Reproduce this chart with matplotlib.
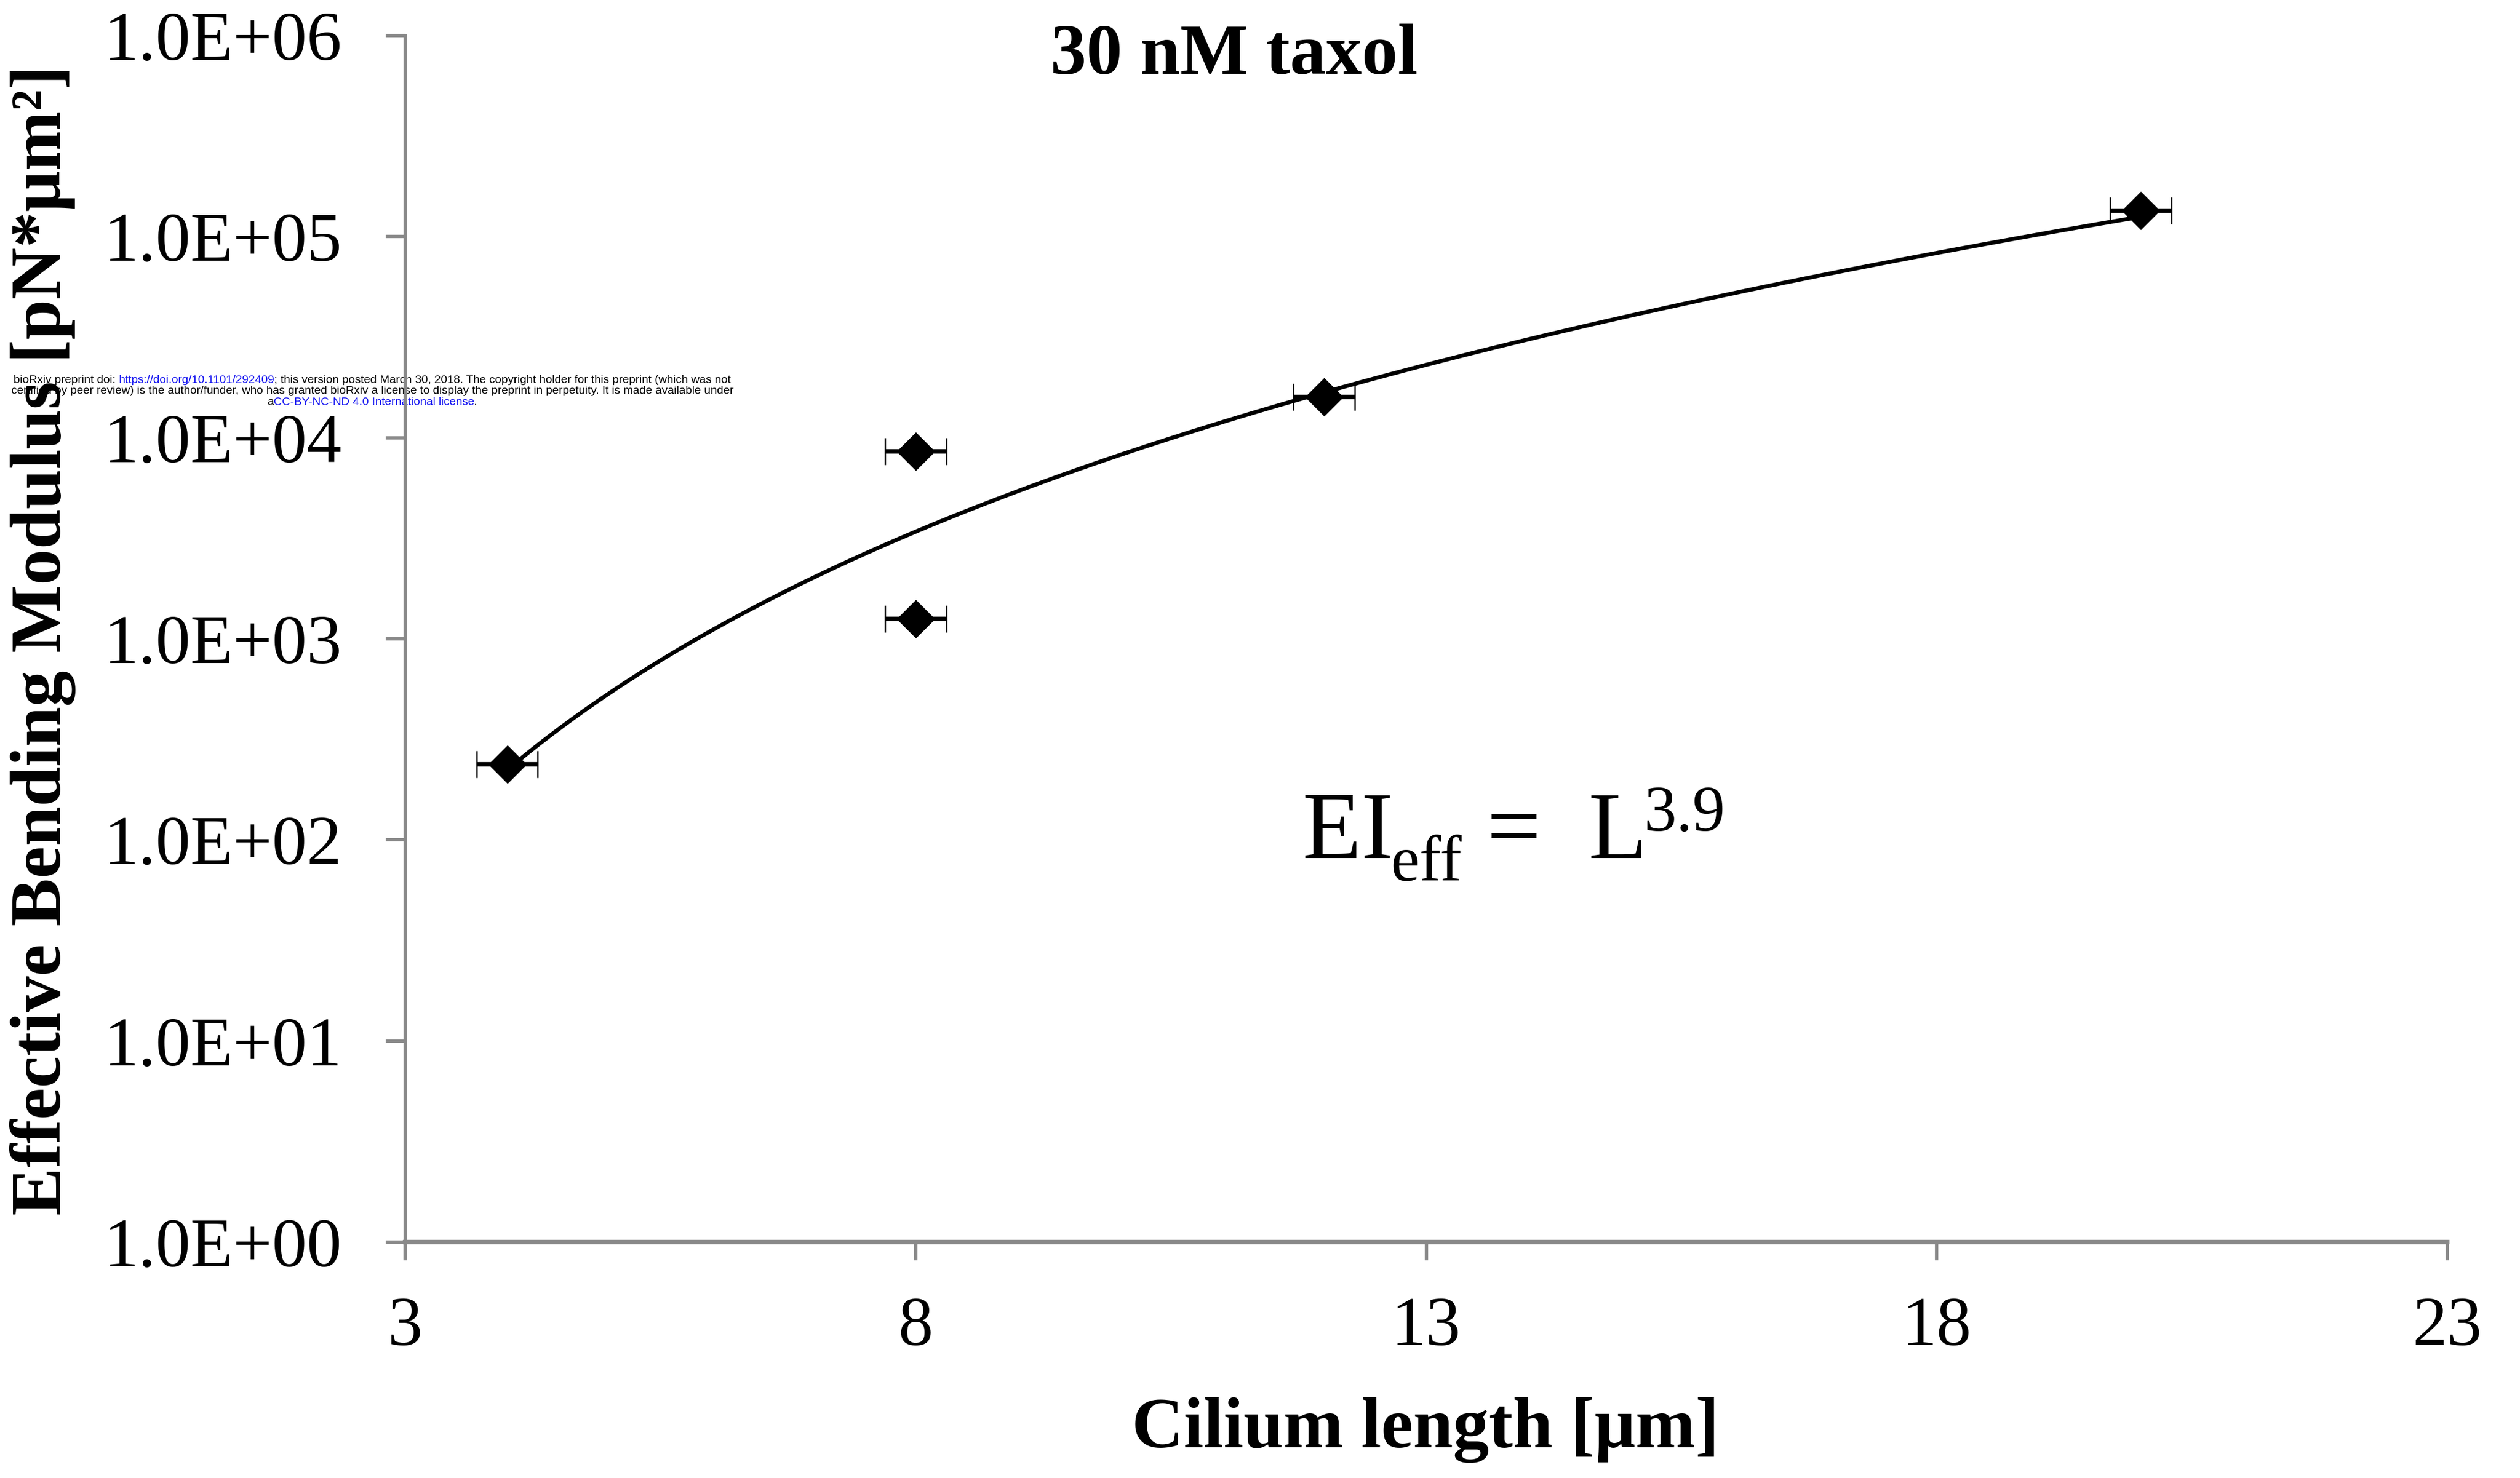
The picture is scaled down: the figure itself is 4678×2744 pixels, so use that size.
import numpy as np
import matplotlib
matplotlib.use("Agg")
import matplotlib.pyplot as plt
from matplotlib.transforms import IdentityTransform

# Measured cilia: length (um), effective bending modulus (pN*um^2), length error (um)
length_um = [4, 8, 8, 12, 20]
modulus = [237, 8530, 1260, 15960, 134600]
length_err = [0.3, 0.3, 0.3, 0.3, 0.3]

x_ticks = [3, 8, 13, 18, 23]
y_ticks = [1e0, 1e1, 1e2, 1e3, 1e4, 1e5, 1e6]
y_tick_labels = ["1.0E+00", "1.0E+01", "1.0E+02", "1.0E+03",
                 "1.0E+04", "1.0E+05", "1.0E+06"]

title_text = "30 nM taxol"
x_label = "Cilium length [\u03bcm]"
y_label = "Effective Bending Modulus [pN*\u03bcm\u00b2]"

header_lines = [
    [("bioRxiv preprint doi: ", "black"),
     ("https://doi.org/10.1101/292409", "#1010f0"),
     ("; this version posted March 30, 2018. The copyright holder for this preprint (which was not", "black")],
    [("certified by peer review) is the author/funder, who has granted bioRxiv a license to display the preprint in perpetuity. It is made available under", "black")],
    [("a", "black"),
     ("CC-BY-NC-ND 4.0 International license", "#1010f0"),
     (".", "black")],
]

plt.rcParams["font.family"] = ["Liberation Serif", "DejaVu Serif"]

W, H, DPI = 4678, 2744, 300
fig = plt.figure(figsize=(W / DPI, H / DPI), dpi=DPI)
fig.patch.set_facecolor("white")

# plot area in pixels
X0, X1, Y0, Y1 = 752, 4543, 66, 2306
ax = fig.add_axes([X0 / W, 1 - Y1 / H, (X1 - X0) / W, (Y1 - Y0) / H])
ax.patch.set_visible(False)

def fx(px):
    return px / W

def fy(py):
    return 1 - py / H

# power-law fit in log-log space
coef = np.polyfit(np.log10(length_um), np.log10(modulus), 1)
xs = np.linspace(min(length_um), max(length_um), 300)
ys = 10 ** np.polyval(coef, np.log10(xs))
ax.plot(xs, ys, color="black", lw=1.8, zorder=2, solid_capstyle="round")

ax.errorbar(length_um, modulus, xerr=length_err, fmt="D", color="black",
            ms=11.6, mew=0.6, ecolor="black", elinewidth=2.0,
            capsize=6, capthick=2.0, zorder=3)

ax.set_yscale("log")
ax.set_xlim(3, 23)
ax.set_ylim(1, 1e6)
ax.set_xticks(x_ticks)
ax.set_xticklabels([str(v) for v in x_ticks])
ax.set_yticks(y_ticks)
ax.set_yticklabels(y_tick_labels)
ax.yaxis.set_minor_locator(matplotlib.ticker.NullLocator())

spine_col = "#898989"
for s in ["top", "right"]:
    ax.spines[s].set_visible(False)
ax.spines["left"].set_color(spine_col)
ax.spines["left"].set_linewidth(1.6)
ax.spines["bottom"].set_color(spine_col)
ax.spines["bottom"].set_linewidth(2.0)
ax.tick_params(axis="y", direction="out", length=8.6, width=1.5,
               color=spine_col, pad=19.5, labelsize=31, labelcolor="black")
ax.tick_params(axis="x", direction="out", length=8.2, width=1.5,
               color=spine_col, pad=16, labelsize=31, labelcolor="black")

ax.set_xlabel(x_label, fontsize=32, fontweight="bold", va="center")
ax.xaxis.set_label_coords(0.4996, (Y1 - 2655) / (Y1 - Y0))
ax.set_ylabel(y_label, fontsize=32, fontweight="bold", va="center")
ax.yaxis.set_label_coords((80 - X0) / (X1 - X0), (Y1 - 1188) / (Y1 - Y0))

fig.text(fx(2291), fy(104), title_text, fontsize=32, fontweight="bold",
         ha="center", va="center")

# fitted law annotation
eq_parts = [("EI", 2418, 1593, 43), ("eff", 2581, 1635, 29),
            ("=", 2759, 1593, 43), ("L", 2949, 1593, 43),
            ("3.9", 3052, 1542, 29)]
for txt, px, py, size in eq_parts:
    fig.text(fx(px), fy(py), txt, fontsize=size, ha="left", va="baseline")

# preprint header, drawn beneath the axes
renderer = fig.canvas.get_renderer()
hdr_kw = dict(fontsize=5.15, family=["Liberation Sans", "DejaVu Sans"],
              va="baseline", ha="left", transform=IdentityTransform(), zorder=-5)

def advance(s):
    t1 = fig.text(0, 0, s + "|", **hdr_kw)
    t2 = fig.text(0, 0, "|", **hdr_kw)
    w = t1.get_window_extent(renderer).width - t2.get_window_extent(renderer).width
    t1.remove()
    t2.remove()
    return w

center_px = 691
baselines = [711, 731, 752]
for runs, base in zip(header_lines, baselines):
    widths = [advance(s) for s, _ in runs]
    x = center_px - sum(widths) / 2
    for (s, col), w in zip(runs, widths):
        fig.text(x, H - base, s, color=col, **hdr_kw)
        x += w

fig.savefig("out.png", dpi=DPI, facecolor="white")
